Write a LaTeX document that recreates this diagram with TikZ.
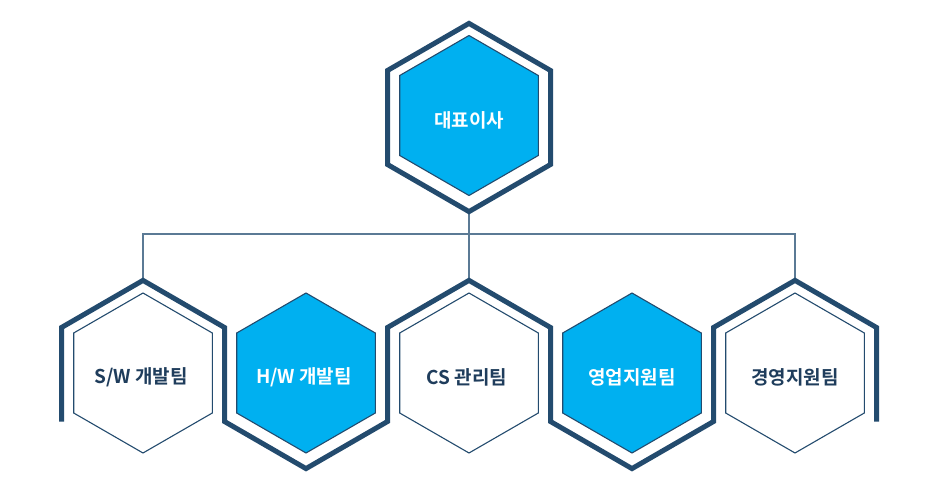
\documentclass[tikz,border=0pt]{standalone}
\usepackage{fontspec}
\newfontfamily\krb{Noto Sans CJK KR Bold}
\definecolor{navy}{HTML}{234B6E}
\definecolor{cyanf}{HTML}{00B0F0}
\definecolor{connc}{HTML}{5B7A95}
\definecolor{txtd}{HTML}{1F3D5C}
\tikzset{
  frame/.style={draw=navy, line width=5pt, line join=miter},
  innerw/.style={draw=navy, line width=1.1pt, fill=white},
  innerc/.style={draw=navy, line width=1.1pt, fill=cyanf},
  connline/.style={draw=connc, line width=1.1pt},
  lbl/.style={font=\krb\fontsize{19}{22}\selectfont, inner sep=0pt, anchor=center},
  lblw/.style={lbl, text=white},
  lbld/.style={lbl, text=txtd},
}
\begin{document}
\begin{tikzpicture}[x=1pt,y=-1pt]
\useasboundingbox (0,0) rectangle (938,500);
% named points
\coordinate (ceoB) at (469,211.6);
\coordinate (bus) at (469,234);
\coordinate (swT) at (143,280.4);
\coordinate (csT) at (469,280.4);
\coordinate (gyT) at (795,280.4);
% connectors
\draw[connline] (ceoB) -- (bus);
\draw[connline] (swT) |- (bus) -| (gyT);
\draw[connline] (bus) -- (csT);
% top frame
\draw[frame] (469,23.4) -- (550.5,70.5) -- (550.5,164.5) -- (469,211.6) -- (387.5,164.5) -- (387.5,70.5) -- cycle;
% bottom zigzag frame
\draw[frame] (61.5,421.5) -- (61.5,327.5) -- (143,280.4) -- (224.5,327.5) -- (224.5,421.5) -- (306,468.6) -- (387.5,421.5) -- (387.5,327.5) -- (469,280.4) -- (550.5,327.5) -- (550.5,421.5) -- (632,468.6) -- (713.5,421.5) -- (713.5,327.5) -- (795,280.4) -- (876.5,327.5) -- (876.5,421.5);
% inner hexagons
\def\ri{80}
\def\hi{69.3}
\draw[innerc] (469,115.5) ++(0,-\ri) -- ++(\hi,40) -- ++(0,80) -- ++(-\hi,40) -- ++(-\hi,-40) -- ++(0,-80) -- cycle;
\foreach \cx/\sty in {143/innerw,306/innerc,469/innerw,632/innerc,795/innerw}{
  \draw[\sty] (\cx,373) ++(0,-\ri) -- ++(\hi,40) -- ++(0,80) -- ++(-\hi,40) -- ++(-\hi,-40) -- ++(0,-80) -- cycle;
}
% labels
\node[lblw] (ceo) at (469,120) {대표이사};
\node[lbld] (sw) at (141,377) {S/W 개발팀};
\node[lblw] (hw) at (304,377) {H/W 개발팀};
\node[lbld] (cs) at (467,377) {CS 관리팀};
\node[lblw] (sales) at (632,377) {영업지원팀};
\node[lbld] (mgmt) at (795,377) {경영지원팀};
\end{tikzpicture}
\end{document}
